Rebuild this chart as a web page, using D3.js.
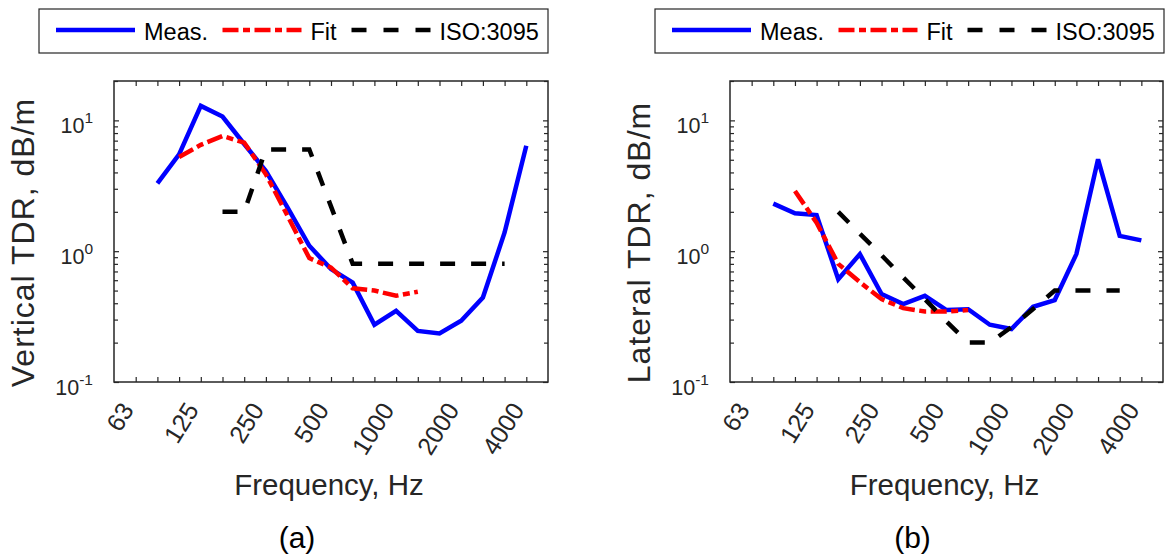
<!DOCTYPE html>
<html>
<head>
<meta charset="utf-8">
<script src="https://cdn.jsdelivr.net/npm/d3@7"></script>
<style>
  body { margin: 0; background: #fff; }
  text { font-family: "Liberation Sans", Arial, sans-serif; }
</style>
</head>
<body>
<div class="chart"></div>
<script>
var svgWidth = 1165;
var svgHeight = 558;

// third-octave band centres, one tick per band
var bands = [63, 80, 100, 125, 160, 200, 250, 315, 400, 500, 630, 800, 1000, 1250, 1600, 2000, 2500, 3150, 4000];
var bandLabels = ["63", "125", "250", "500", "1000", "2000", "4000"];
var seriesNames = ["Meas.", "Fit", "ISO:3095"];

// (a) vertical TDR, dB/m (null = no value in that band)
var vertMeas = [null, 3.3, 5.5, 12.9, 10.7, 6.6, 4.1, 2.15, 1.1, 0.73, 0.575, 0.274, 0.35, 0.246, 0.235, 0.294, 0.442, 1.39, 6.4];
var vertFit = [null, null, 5.25, 6.5, 7.6, 6.75, 3.87, 1.86, 0.885, 0.75, 0.52, 0.5, 0.456, 0.49, null, null, null, null, null];
var vertIso = [null, null, null, null, 2, 2, 6, 6, 6, 2.2, 0.8, 0.8, 0.8, 0.8, 0.8, 0.8, 0.8, 0.8, null];

// (b) lateral TDR, dB/m
var latMeas = [null, 2.31, 1.95, 1.89, 0.61, 0.95, 0.47, 0.394, 0.456, 0.355, 0.36, 0.274, 0.254, 0.376, 0.423, 0.95, 5.04, 1.31, 1.21];
var latFit = [null, null, 2.89, 1.65, 0.8, 0.58, 0.43, 0.367, 0.346, 0.346, 0.355, null, null, null, null, null, null, null, null];
var latIso = [null, null, null, null, 2, 1.36, 0.93, 0.63, 0.43, 0.29, 0.2, 0.2, 0.263, 0.361, 0.5, 0.5, 0.5, 0.5, null];

var yMajor = [0.1, 1, 10];
var yMinor = [0.2, 0.3, 0.4, 0.5, 0.6, 0.7, 0.8, 0.9, 2, 3, 4, 5, 6, 7, 8, 9, 20];

var styles = [
  { color: "#0000ff", dash: null },
  { color: "#ff0000", dash: "16,4.5,7,4.5" },
  { color: "#000000", dash: "15,16" }
];

var svg = d3.select(".chart")
  .append("svg")
  .attr("width", svgWidth)
  .attr("height", svgHeight);

var axisColor = "#262626";

function drawPanel(left, plotW, yTitle, tag, seriesVals) {
  var top = 81, plotH = 301;

  var x = d3.scaleLinear().domain([0, bands.length + 1]).range([0, plotW]);
  var y = d3.scaleLog().domain([0.1, 20]).range([plotH, 0]);

  var g = svg.append("g").attr("transform", `translate(${left}, ${top})`);

  // legend above the plot
  var leg = svg.append("g").attr("transform", `translate(${left - 75}, 9)`);
  leg.append("rect")
    .attr("width", 509).attr("height", 44)
    .attr("fill", "#fff").attr("stroke", axisColor).attr("stroke-width", 1.2);
  var legX = [17, 183.5, 312.5];
  seriesNames.forEach(function(name, k) {
    leg.append("line")
      .attr("x1", legX[k]).attr("x2", legX[k] + 79)
      .attr("y1", 21).attr("y2", 21)
      .attr("stroke", styles[k].color)
      .attr("stroke-width", 4.5)
      .attr("stroke-dasharray", k == 2 ? "15,17" : styles[k].dash);
    leg.append("text")
      .attr("x", legX[k] + 88).attr("y", 31)
      .attr("font-size", "23.5px").attr("fill", "#000")
      .text(name);
  });

  var idx = d3.range(1, bands.length + 1);

  // x axis: ticks on top and bottom, pointing inward
  var bottomAxis = d3.axisBottom(x).tickValues(idx).tickSize(-5).tickSizeOuter(0)
    .tickFormat(function(i) {
      var lab = String(bands[i - 1]);
      return bandLabels.indexOf(lab) >= 0 ? lab : "";
    });
  var xAxis = g.append("g").attr("transform", `translate(0, ${plotH})`).call(bottomAxis);
  xAxis.selectAll("text")
    .attr("font-size", "25px").attr("fill", axisColor)
    .attr("text-anchor", "end")
    .attr("dy", "0.35em").attr("y", 0).attr("x", 0)
    .attr("transform", "translate(-9, 23) rotate(-58)");

  g.append("g").call(d3.axisTop(x).tickValues(idx).tickSize(-5).tickSizeOuter(0).tickFormat(""));

  // y axis, log decades with minor ticks both sides
  var leftAxis = d3.axisLeft(y).tickValues(yMajor).tickSize(-5).tickSizeOuter(0).tickFormat("");
  g.append("g").call(leftAxis);
  g.append("g").call(d3.axisLeft(y).tickValues(yMinor).tickSize(-4).tickSizeOuter(0).tickFormat(""));
  g.append("g").attr("transform", `translate(${plotW}, 0)`)
    .call(d3.axisRight(y).tickValues(yMajor).tickSize(-5).tickSizeOuter(0).tickFormat(""));
  g.append("g").attr("transform", `translate(${plotW}, 0)`)
    .call(d3.axisRight(y).tickValues(yMinor).tickSize(-4).tickSizeOuter(0).tickFormat(""));

  g.selectAll(".tick line").attr("stroke", axisColor).attr("stroke-width", 1.2);
  g.selectAll(".domain").attr("stroke", "none");

  // 10^n labels
  yMajor.forEach(function(v) {
    var t = g.append("text")
      .attr("x", -21).attr("y", y(v) + 13)
      .attr("text-anchor", "end")
      .attr("font-size", "21.5px").attr("fill", axisColor);
    t.append("tspan").text("10");
    t.append("tspan").attr("dy", -10).attr("font-size", "15.5px").text(Math.round(Math.log10(v)));
  });

  // series
  var line = d3.line()
    .x(function(d) { return x(d.i); })
    .y(function(d) { return y(d.v); });

  seriesVals.forEach(function(vals, k) {
    var pts = vals.map(function(v, j) { return { i: j + 1, v: v }; })
      .filter(function(d) { return d.v != null; });
    g.append("path")
      .datum(pts)
      .attr("d", line)
      .attr("fill", "none")
      .attr("stroke", styles[k].color)
      .attr("stroke-width", 4.5)
      .attr("stroke-dasharray", styles[k].dash);
  });

  // axes box
  g.append("rect")
    .attr("width", plotW).attr("height", plotH)
    .attr("fill", "none").attr("stroke", axisColor).attr("stroke-width", 1.5);

  // titles
  g.append("text")
    .attr("x", plotW / 2 - 2).attr("y", 414)
    .attr("text-anchor", "middle")
    .attr("font-size", "29.5px").attr("fill", axisColor)
    .text("Frequency, Hz");

  g.append("text")
    .attr("transform", `translate(-80, ${plotH / 2 + 11}) rotate(-90)`)
    .attr("text-anchor", "middle")
    .attr("font-size", "32px").attr("letter-spacing", "1px").attr("fill", axisColor)
    .text(yTitle);

  g.append("text")
    .attr("x", plotW / 2 - 34).attr("y", 467)
    .attr("text-anchor", "middle")
    .attr("font-family", "'Liberation Serif', 'Times New Roman', serif")
    .attr("font-size", "30px").attr("fill", "#000")
    .text(tag);
}

drawPanel(114, 434, "Vertical TDR, dB/m", "(a)", [vertMeas, vertFit, vertIso]);
drawPanel(730, 433, "Lateral TDR, dB/m", "(b)", [latMeas, latFit, latIso]);
</script>
</body>
</html>
